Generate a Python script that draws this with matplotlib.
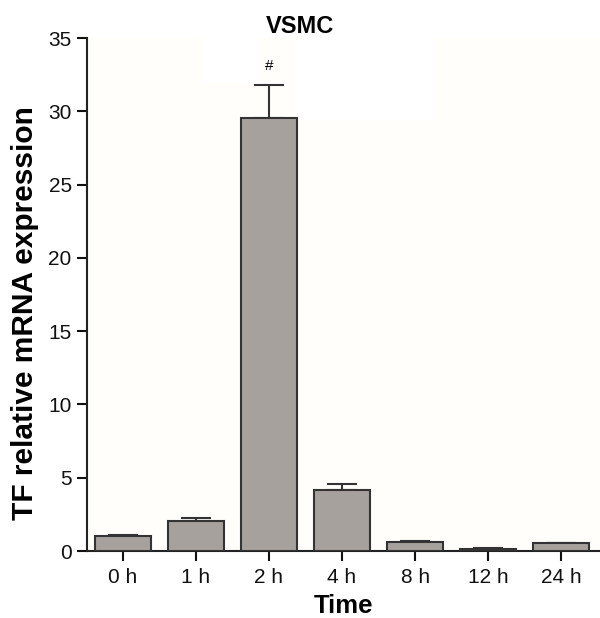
import matplotlib
matplotlib.use("Agg")
import matplotlib.pyplot as plt
from matplotlib.patches import Rectangle

categories = ["0 h", "1 h", "2 h", "4 h", "8 h", "12 h", "24 h"]
values = [1.0, 2.07, 29.58, 4.16, 0.61, 0.14, 0.52]
errors = [0.11, 0.16, 2.22, 0.43, 0.09, 0.04, 0.0]
annotations = ["", "", "#", "", "", "", ""]

plt.rcParams['font.family'] = ['Liberation Sans', 'DejaVu Sans']

fig = plt.figure(figsize=(6, 6.18), dpi=100)
ax = fig.add_axes([0.145, 0.1084, 0.855, 0.83])
ax.set_facecolor('#fffefa')

x = list(range(len(categories)))
ax.bar(x, values, width=0.77, color='#a6a19c', edgecolor='#333333', linewidth=1.5, zorder=3)
ax.errorbar(x, values, yerr=[[0]*len(values), errors], fmt='none', ecolor='#333333',
            elinewidth=1.5, capsize=10.5, capthick=1.5, zorder=2)
for xi, v, e, a in zip(x, values, errors, annotations):
    if a:
        ax.text(xi, v + e + 0.8, a, ha='center', va='bottom', fontsize=11, zorder=4)

# faint white patches present in the original image
ax.add_patch(Rectangle((1.07, 31.95), 0.78, 3.05, facecolor='white', edgecolor='none', zorder=1))
ax.add_patch(Rectangle((2.37, 29.4), 1.87, 5.6, facecolor='white', edgecolor='none', zorder=1))

ax.set_xlim(-0.49, 6.53)
ax.set_ylim(0, 35)
ax.set_yticks([0, 5, 10, 15, 20, 25, 30, 35])
ax.set_xticks(x)
ax.set_xticklabels(categories)
ax.tick_params(axis='both', direction='out', length=7, width=1.5, colors='#111111', labelsize=15)
ax.tick_params(axis='y', pad=4)
ax.tick_params(axis='x', pad=5)
for s in ['top', 'right']:
    ax.spines[s].set_visible(False)
for s in ['left', 'bottom']:
    ax.spines[s].set_linewidth(1.5)
    ax.spines[s].set_color('#222222')

fig.text(0.572, 0.019, "Time", ha='center', va='center', fontsize=18.5, fontweight='bold')
fig.text(0.042, 0.494, "TF relative mRNA expression", rotation=90, ha='center', va='center',
         fontsize=21.5, fontweight='bold')
fig.text(0.5, 0.957, "VSMC", ha='center', va='center', fontsize=17, fontweight='bold')

fig.savefig("out.png", dpi=100)
